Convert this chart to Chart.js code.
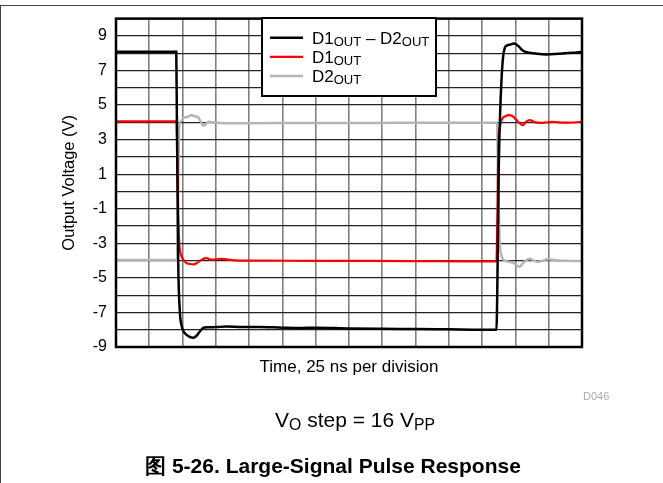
<!DOCTYPE html>
<html>
<head>
<meta charset="utf-8">
<script src="https://cdn.jsdelivr.net/npm/chart.js@4.4.1/dist/chart.umd.min.js"></script>
<style>
  body { margin: 0; background: #fff; font-family: "Liberation Sans", Arial, sans-serif; }
  #wrap { position: relative; width: 663px; height: 483px; overflow: hidden; }
  #frame { position: absolute; left: 0; top: 5px; width: 663px; height: 480px; border-top: 1px solid #444; border-left: 1px solid #444; box-sizing: border-box; }
  canvas { position: absolute; left: 0; top: 0; }
  .txt { position: absolute; white-space: nowrap; color: #000; }
  .txt sub { font-size: 75%; vertical-align: -0.22em; line-height: 0; }
</style>
</head>
<body>
<div id="wrap">
  <div id="frame"></div>
  <canvas id="pulse" width="663" height="483"></canvas>
  <div class="txt" style="left:583px; top:391px; font-size:11px; line-height:11px; color:#aaa;">D046</div>
  <div class="txt" style="left:355px; top:409px; font-size:21px; line-height:21px; transform:translateX(-50%);">V<sub>O</sub> step = 16 V<sub>PP</sub></div>
  <div class="txt" style="left:333px; top:455px; font-size:21px; line-height:21px; font-weight:bold; transform:translateX(-50%);">图 5-26. Large-Signal Pulse Response</div>
</div>
<script>
// time in divisions (25 ns each), voltage in V
const diffT = [0, 1.81, 1.83, 1.85, 1.87, 1.92, 1.97, 2.03, 2.12, 2.22, 2.32, 2.42, 2.52, 2.62, 2.75, 3.0, 3.3, 3.8, 4.3, 5.0, 5.5, 6.0, 7.0, 8.0, 9.0, 10.0, 11.0, 11.43,
               11.46, 11.5, 11.54, 11.58, 11.63, 11.68, 11.75, 11.85, 11.95, 12.03, 12.12, 12.22, 12.33, 12.6, 12.95, 13.3, 13.7, 14.0];
const diffV = [8.08, 8.08, 4.0, 0.0, -4.1, -7.0, -7.75, -8.1, -8.3, -8.42, -8.46, -8.35, -8.1, -7.9, -7.86, -7.85, -7.82, -7.85, -7.84, -7.88, -7.9, -7.88, -7.93, -7.95, -7.96, -7.98, -8.0, -8.0,
               -5.0, 1.5, 4.5, 6.4, 7.8, 8.3, 8.45, 8.5, 8.56, 8.5, 8.35, 8.15, 8.05, 7.98, 7.93, 7.97, 8.02, 8.08];

const d1T = [0, 1.82, 1.85, 1.9, 1.96, 2.02, 2.12, 2.22, 2.32, 2.45, 2.6, 2.72, 2.85, 3.0, 3.2, 3.4, 3.7, 4.5, 6.0, 7.5, 9.0, 10.5, 11.43,
             11.46, 11.49, 11.53, 11.6, 11.7, 11.8, 11.9, 12.0, 12.1, 12.23, 12.33, 12.43, 12.6, 12.8, 13.1, 13.5, 14.0];
const d1V = [4.05, 4.05, 0.5, -2.95, -3.7, -3.95, -4.15, -4.2, -4.22, -4.12, -3.92, -3.86, -3.95, -3.93, -3.9, -3.96, -4.0, -4.0, -4.02, -4.02, -4.03, -4.05, -4.05,
             -1.0, 3.0, 3.7, 4.2, 4.35, 4.42, 4.38, 4.2, 3.98, 3.84, 4.05, 4.13, 4.0, 3.97, 4.02, 3.98, 4.02];

const d2T = [0, 1.84, 1.86, 1.9, 1.97, 2.05, 2.12, 2.2, 2.27, 2.37, 2.47, 2.55, 2.62, 2.7, 2.77, 3.0, 3.3, 4.0, 5.5, 7.0, 8.5, 10.0, 11.45,
             11.48, 11.53, 11.58, 11.63, 11.75, 11.93, 12.05, 12.13, 12.25, 12.43, 12.55, 12.68, 12.98, 13.3, 13.7, 14.0];
const d2V = [-3.97, -3.97, -1.0, 3.74, 4.1, 4.28, 4.3, 4.36, 4.42, 4.35, 4.28, 4.02, 3.8, 3.9, 4.03, 3.97, 3.95, 3.95, 3.96, 3.96, 3.97, 3.97, 3.97,
             0.5, -2.97, -3.7, -3.93, -4.05, -4.12, -4.3, -4.35, -4.1, -3.89, -4.0, -4.07, -3.93, -4.0, -4.02, -4.03];

const yTickLabels = [9, 7, 5, 3, 1, -1, -3, -5, -7, -9];
const legendParts = [
  [['D1', false], ['OUT', true], [' \u2013 D2', false], ['OUT', true]],
  [['D1', false], ['OUT', true]],
  [['D2', false], ['OUT', true]]
];

Chart.defaults.font.family = '"Liberation Sans", Arial, sans-serif';
Chart.defaults.color = '#000';

const series = (ts, vs) => ts.map((t, i) => ({ x: t, y: vs[i] }));

// thick box round the plot area
const plotFrame = {
  id: 'plotFrame',
  afterDatasetsDraw(chart) {
    const { left, top, right, bottom } = chart.chartArea;
    const c = chart.ctx;
    c.save();
    c.lineWidth = 2.5;
    c.strokeStyle = '#000';
    c.strokeRect(left, top, right - left, bottom - top);
    c.restore();
  }
};

// boxed legend with subscripts
const legendBox = {
  id: 'legendBox',
  afterDatasetsDraw(chart) {
    const c = chart.ctx;
    c.save();
    c.fillStyle = '#fff';
    c.fillRect(262, 18, 174, 78);
    c.lineWidth = 2;
    c.strokeStyle = '#000';
    c.strokeRect(262, 18, 174, 78);
    chart.data.datasets.forEach((ds, i) => {
      const y = 37.7 + i * 19.2;
      c.strokeStyle = ds.borderColor;
      c.lineWidth = ds.borderWidth;
      c.beginPath();
      c.moveTo(270, y);
      c.lineTo(303, y);
      c.stroke();
      let x = 312;
      c.fillStyle = '#000';
      c.textBaseline = 'alphabetic';
      legendParts[i].forEach(([txt, sub]) => {
        c.font = sub ? '13px "Liberation Sans", Arial' : '17px "Liberation Sans", Arial';
        c.fillText(txt, x, y + 5.8 + (sub ? 2 : 0));
        x += c.measureText(txt).width;
      });
    });
    c.restore();
  }
};

new Chart(document.getElementById('pulse'), {
  type: 'line',
  data: {
    datasets: [
      { label: 'D1OUT - D2OUT', data: series(diffT, diffV), borderColor: '#000000', borderWidth: 2.5, order: 0 },
      { label: 'D1OUT', data: series(d1T, d1V), borderColor: '#ff0000', borderWidth: 2.2, order: 1 },
      { label: 'D2OUT', data: series(d2T, d2V), borderColor: '#b4b4b4', borderWidth: 2.5, order: 2 }
    ]
  },
  options: {
    responsive: false,
    animation: false,
    layout: { padding: { left: 46, right: 81, top: 18, bottom: 105 } },
    elements: {
      point: { radius: 0 },
      line: { cubicInterpolationMode: 'monotone', fill: false }
    },
    plugins: { legend: { display: false }, tooltip: { enabled: false } },
    scales: {
      x: {
        type: 'linear', min: 0, max: 14,
        ticks: { stepSize: 1, display: false },
        grid: { color: '#808080', lineWidth: 1.6, drawTicks: false },
        border: { display: false },
        title: { display: true, text: 'Time, 25 ns per division', font: { size: 17 }, padding: { top: 0, bottom: 0 } },
        afterFit: (s) => { s.height = 31; }
      },
      y: {
        min: -9, max: 10,
        ticks: {
          stepSize: 1, autoSkip: false, padding: 9, font: { size: 16 },
          callback: (v) => yTickLabels.includes(v) ? String(v) : ''
        },
        grid: { color: '#222', lineWidth: 1.2, drawTicks: false },
        border: { display: false },
        title: { display: true, text: 'Output Voltage (V)', font: { size: 16.5 }, padding: { top: 14, bottom: 0 } },
        afterFit: (s) => { s.width = 70; }
      }
    }
  },
  plugins: [plotFrame, legendBox]
});
</script>
</body>
</html>
